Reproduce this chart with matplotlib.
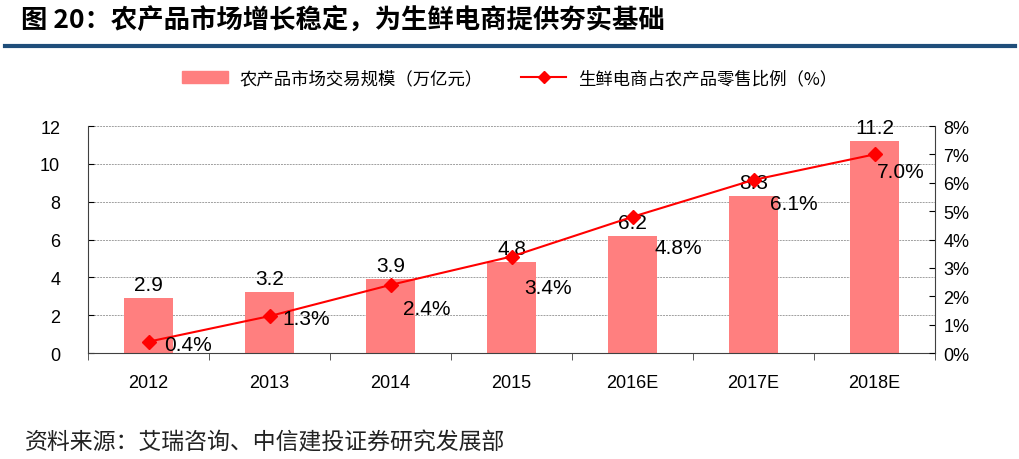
import matplotlib
matplotlib.use("Agg")
import matplotlib.pyplot as plt
from matplotlib.ticker import FuncFormatter
from matplotlib.lines import Line2D
import numpy as np

plt.rcParams["font.family"] = ["Liberation Sans", "Noto Sans CJK SC", "DejaVu Sans"]

# data
years = ["2012", "2013", "2014", "2015", "2016E", "2017E", "2018E"]
market_size = [2.9, 3.2, 3.9, 4.8, 6.2, 8.3, 11.2]       # 万亿元
online_share = [0.4, 1.3, 2.4, 3.4, 4.8, 6.1, 7.0]        # %
share_labels = ["0.4%", "1.3%", "2.4%", "3.4%", "4.8%", "6.1%", "7.0%"]

title = "图 20：农产品市场增长稳定，为生鲜电商提供夯实基础"
bar_name = "农产品市场交易规模（万亿元）"
line_name = "生鲜电商占农产品零售比例（%）"
source = "资料来源：艾瑞咨询、中信建投证券研究发展部"

# label offsets (points) for the percent labels, as placed in the original
pct_dx = [11, 9, 9, 9, 16, 12, 2]
pct_dy = [-2, -1.5, -17, -22, -22, -17, -12]

bar_color = "#FF7F7F"
line_color = "#FF0000"
cjk = ["Noto Sans CJK SC", "DejaVu Sans"]

fig = plt.figure(figsize=(10.2, 4.6), dpi=100)
ax = fig.add_axes([0.0863, 0.2304, 0.8304, 0.4935])
x = np.arange(len(years))

ax.bar(x, market_size, width=0.4, color=bar_color, zorder=2)
ax.set_ylim(0, 12)
ax.set_yticks(range(0, 13, 2))
ax.set_xlim(-0.5, len(years) - 0.5)
ax.set_xticks(x)
ax.set_xticklabels(years, fontsize=13)
ax.set_xticks(np.arange(-0.5, len(years)), minor=True)
ax.tick_params(axis="x", which="major", length=0, pad=15)
ax.tick_params(axis="x", which="minor", length=5, direction="out", color="#404040")
ax.tick_params(axis="y", direction="in", length=4, labelsize=13, pad=20)
ax.grid(axis="y", color="#A0A0A0", linestyle=(0, (2, 1)), linewidth=0.7, zorder=0)
for s in ["left", "bottom"]:
    ax.spines[s].set_color("#404040")
ax.spines["top"].set_visible(False)
ax.spines["right"].set_visible(False)

for xi, v in zip(x, market_size):
    ax.annotate(f"{v:.1f}", (xi, v), xytext=(0, 3), textcoords="offset points",
                ha="center", va="bottom", fontsize=15)

ax2 = ax.twinx()
ax2.plot(x, online_share, color=line_color, linewidth=1.5, marker="D",
         markersize=7, zorder=3)
ax2.set_ylim(0, 8)
ax2.set_yticks(range(0, 9))
ax2.yaxis.set_major_formatter(FuncFormatter(lambda v, p: f"{int(v)}%"))
ax2.tick_params(axis="y", direction="in", length=4, labelsize=13, pad=6)
for s in ["top", "left", "bottom"]:
    ax2.spines[s].set_visible(False)
ax2.spines["right"].set_color("#404040")

for xi, v, lab, dx, dy in zip(x, online_share, share_labels, pct_dx, pct_dy):
    ax2.annotate(lab, (xi, v), xytext=(dx, dy), textcoords="offset points",
                 ha="left", va="center", fontsize=15)

# legend
handles = [plt.Rectangle((0, 0), 1, 1, color=bar_color),
           Line2D([0], [0], color=line_color, marker="D", markersize=6, linewidth=1.5)]
fig.legend(handles, [bar_name, line_name], loc="center", bbox_to_anchor=(0.5, 0.828),
           ncol=2, frameon=False, handlelength=2.6, handletextpad=0.7, columnspacing=2.2,
           prop={"family": cjk, "size": 12.5})

# title and rule
fig.text(0.021, 0.957, title, fontsize=19, fontweight="bold", va="center", ha="left",
         family=cjk)
fig.add_artist(Line2D([0.005, 0.995], [0.898, 0.898], color="#1F4E7A", linewidth=3,
                      transform=fig.transFigure))

fig.text(0.024, 0.037, source, fontsize=16.5, style="italic", va="center", ha="left",
         family=cjk, color="#222222")

fig.savefig("out.png", dpi=100)
